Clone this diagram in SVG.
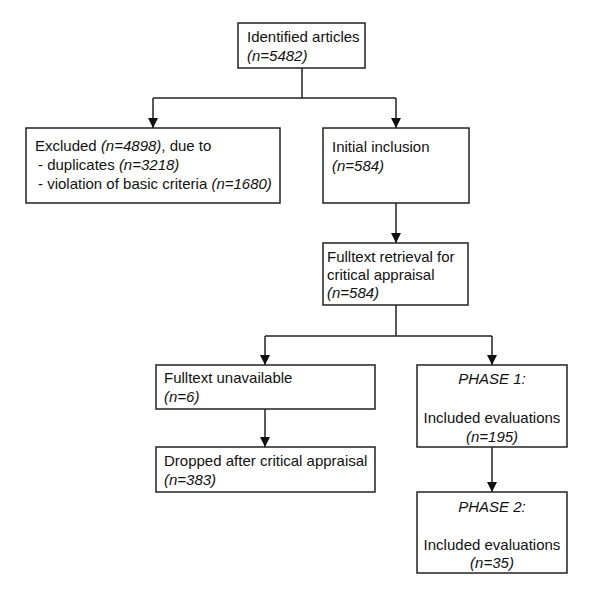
<svg xmlns="http://www.w3.org/2000/svg" width="600" height="601" viewBox="0 0 600 601">
<style>
.box{fill:#fff;stroke:#222;stroke-width:1.5}
text{font-family:"Liberation Sans",Arial,sans-serif;font-size:15px;fill:#111}
.i{font-style:italic}
.c{text-anchor:middle}
.ln{fill:none;stroke:#222;stroke-width:1.5}
</style>
<defs>
<marker id="ah" markerWidth="10" markerHeight="10" viewBox="0 0 10 10" refX="10" refY="5" orient="auto" markerUnits="userSpaceOnUse">
<path d="M0,0 L10,5 L0,10 Z" fill="#111"/>
</marker>
</defs>
<rect width="600" height="601" fill="#fff"/>
<g id="connectors">
<path class="ln" d="M302,68 V98"/>
<path class="ln" d="M153,98 H396"/>
<path class="ln" d="M153,98 V128" marker-end="url(#ah)"/>
<path class="ln" d="M396,98 V128" marker-end="url(#ah)"/>
<path class="ln" d="M396,203 V243" marker-end="url(#ah)"/>
<path class="ln" d="M396,305 V336"/>
<path class="ln" d="M265,336 H492"/>
<path class="ln" d="M265,336 V365" marker-end="url(#ah)"/>
<path class="ln" d="M492,336 V365" marker-end="url(#ah)"/>
<path class="ln" d="M265,409 V447" marker-end="url(#ah)"/>
<path class="ln" d="M492,447 V492" marker-end="url(#ah)"/>
</g>
<g id="identified">
<rect class="box" x="238" y="23" width="127" height="45"/>
<text x="247" y="42">Identified articles</text>
<text x="247" y="61" class="i">(n=5482)</text>
</g>
<g id="excluded">
<rect class="box" x="26" y="128" width="254" height="75"/>
<text x="35" y="151">Excluded <tspan class="i">(n=4898)</tspan>, due to</text>
<text x="38" y="170">- duplicates <tspan class="i">(n=3218)</tspan></text>
<text x="38" y="189">- violation of basic criteria <tspan class="i">(n=1680)</tspan></text>
</g>
<g id="initial">
<rect class="box" x="323" y="128" width="146" height="75"/>
<text x="332" y="152">Initial inclusion</text>
<text x="332" y="171" class="i">(n=584)</text>
</g>
<g id="fulltext">
<rect class="box" x="323" y="243" width="145" height="62"/>
<text x="327" y="262">Fulltext retrieval for</text>
<text x="327" y="280">critical appraisal</text>
<text x="327" y="298" class="i">(n=584)</text>
</g>
<g id="unavailable">
<rect class="box" x="156" y="365" width="219" height="44"/>
<text x="164" y="383">Fulltext unavailable</text>
<text x="164" y="402" class="i">(n=6)</text>
</g>
<g id="dropped">
<rect class="box" x="156" y="447" width="219" height="45"/>
<text x="164" y="466">Dropped after critical appraisal</text>
<text x="164" y="485" class="i">(n=383)</text>
</g>
<g id="phase1">
<rect class="box" x="417" y="365" width="150" height="82"/>
<text x="492" y="384" class="c i">PHASE 1:</text>
<text x="492" y="423" class="c">Included evaluations</text>
<text x="492" y="442" class="c i">(n=195)</text>
</g>
<g id="phase2">
<rect class="box" x="417" y="492" width="150" height="81"/>
<text x="492" y="512" class="c i">PHASE 2:</text>
<text x="492" y="550" class="c">Included evaluations</text>
<text x="492" y="568" class="c i">(n=35)</text>
</g>
</svg>
